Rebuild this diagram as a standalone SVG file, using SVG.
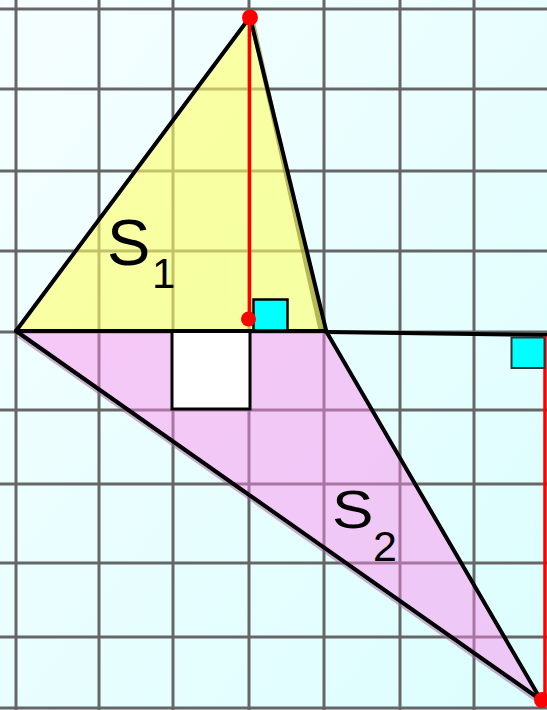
<svg xmlns="http://www.w3.org/2000/svg" width="547" height="710" viewBox="0 0 547 710">
<defs>
<linearGradient id="bg" x1="0" y1="0" x2="1" y2="1">
<stop offset="0" stop-color="#f6feff"/>
<stop offset="1" stop-color="#dcfefe"/>
</linearGradient>
</defs>
<style>
.grid line{stroke:#666;stroke-width:3}
.edge{stroke:#000;stroke-width:4;fill:none;stroke-linecap:round}
.red{stroke:#f00;stroke-width:3.5}
.dot{fill:#f00}
.lbl{font-family:"Liberation Sans",Arial,sans-serif;fill:#000}
</style>
<rect width="547" height="710" fill="url(#bg)"/>
<g class="grid" id="grid">
<line x1="16" y1="0" x2="16" y2="710"/>
<line x1="99" y1="0" x2="99" y2="710"/>
<line x1="173" y1="0" x2="173" y2="710"/>
<line x1="249" y1="0" x2="249" y2="710"/>
<line x1="324" y1="0" x2="324" y2="710"/>
<line x1="400" y1="0" x2="400" y2="710"/>
<line x1="474" y1="0" x2="474" y2="710"/>
<line x1="0" y1="9" x2="547" y2="9"/>
<line x1="0" y1="89" x2="547" y2="89"/>
<line x1="0" y1="171" x2="547" y2="171"/>
<line x1="0" y1="251" x2="547" y2="251"/>
<line x1="0" y1="332" x2="547" y2="332"/>
<line x1="0" y1="410" x2="547" y2="410"/>
<line x1="0" y1="484" x2="547" y2="484"/>
<line x1="0" y1="563" x2="547" y2="563"/>
<line x1="0" y1="637" x2="547" y2="637"/>
<line x1="0" y1="708" x2="547" y2="708"/>
</g>
<g id="S1">
<polygon points="250,17 16,331 326,331" fill="#ffff66" fill-opacity="0.6"/>
<line x1="252" y1="20" x2="321" y2="330" stroke="#8a8a20" stroke-width="5" stroke-opacity="0.6"/>
</g>
<g id="S2">
<polygon points="16,331 326,331 541,700" fill="#ff88ee" fill-opacity="0.45"/>
<line x1="19" y1="336" x2="538" y2="701" stroke="#a060a0" stroke-width="4" stroke-opacity="0.5"/>
</g>
<g id="white-square">
<rect x="172" y="331" width="78" height="78" fill="#fff" stroke="#000" stroke-width="3"/>
</g>
<g id="connectors">
<line class="edge" x1="16" y1="331" x2="250" y2="17"/>
<line class="edge" x1="250" y1="17" x2="326" y2="330"/>
<line class="edge" x1="16" y1="331" x2="326" y2="331"/>
<line class="edge" x1="326" y1="332" x2="547" y2="335"/>
<line class="edge" x1="16" y1="331" x2="541" y2="700"/>
<line class="edge" x1="326" y1="331" x2="541" y2="700"/>
<line class="red" x1="249.5" y1="17" x2="249.5" y2="319"/>
<line class="red" x1="545" y1="336" x2="545" y2="700"/>
</g>
<g id="right-angle-1">
<rect x="253.5" y="299.5" width="34" height="31" fill="#00ffff" stroke="#000" stroke-width="2.5"/>
</g>
<g id="right-angle-2">
<rect x="511.5" y="337.5" width="33" height="30.5" fill="#00ffff" stroke="#333" stroke-width="2"/>
</g>
<g id="points">
<circle class="dot" cx="250" cy="17.5" r="8"/>
<circle class="dot" cx="248.5" cy="319" r="7.5"/>
<circle class="dot" cx="542" cy="700" r="8"/>
</g>
<g id="labels">
<text class="lbl" x="107" y="265" font-size="65">S</text>
<text class="lbl" x="152" y="288" font-size="42">1</text>
<text class="lbl" x="332" y="528" font-size="54" transform="translate(332 528) scale(1.15 1) translate(-332 -528)">S</text>
<text class="lbl" x="373" y="561" font-size="43">2</text>
</g>
</svg>
